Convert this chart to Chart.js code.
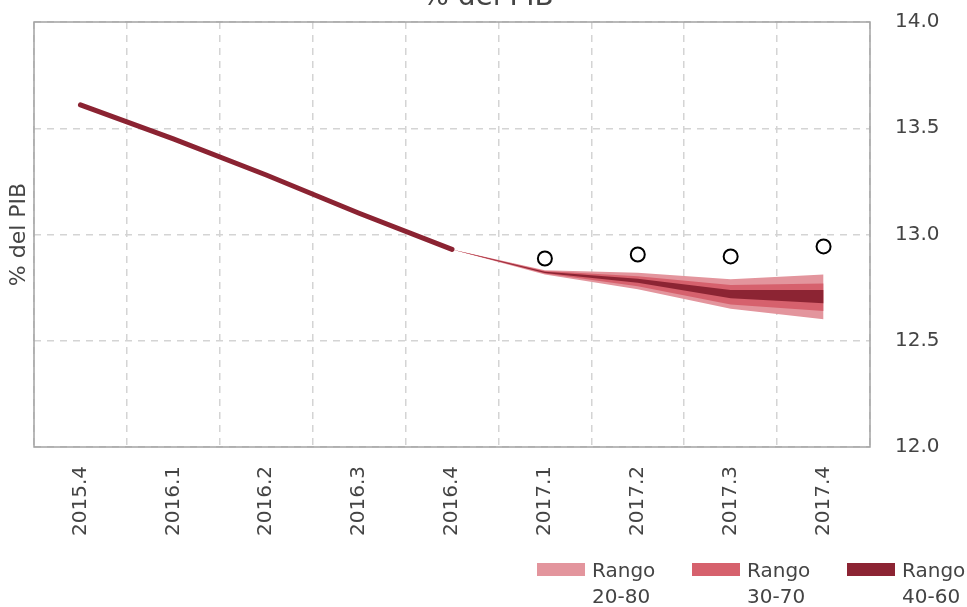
<!DOCTYPE html>
<html>
<head>
<meta charset="utf-8">
<script src="https://cdn.jsdelivr.net/npm/chart.js@4.4.1/dist/chart.umd.min.js"></script>
<style>
  html, body { margin: 0; padding: 0; background: #fff; overflow: hidden; }
  #wrap { position: absolute; left: 0; top: 0; width: 967px; height: 607px; }
  .legend-box { position: absolute; width: 48px; height: 13px; }
  .legend-txt { position: absolute; font: 20px "DejaVu Sans", sans-serif; line-height: 26px; color: #444; }
</style>
</head>
<body>
<div id="wrap"><canvas id="chart"></canvas></div>

<div class="legend-box" style="left:537px;top:563px;background:#e3959d"></div>
<div class="legend-txt" style="left:592px;top:557px">Rango<br>20-80</div>
<div class="legend-box" style="left:692px;top:563px;background:#d6616d"></div>
<div class="legend-txt" style="left:747px;top:557px">Rango<br>30-70</div>
<div class="legend-box" style="left:847px;top:563px;background:#8c2433"></div>
<div class="legend-txt" style="left:902px;top:557px">Rango<br>40-60</div>

<script>
  // ── datos ──
  const quarters = ['2015.4', '2016.1', '2016.2', '2016.3', '2016.4', '2017.1', '2017.2', '2017.3', '2017.4'];
  const observed = [13.61, 13.45, 13.28, 13.10, 12.93, null, null, null, null];
  const survey   = [null, null, null, null, null, 12.887, 12.906, 12.897, 12.944];
  const upper80  = [null, null, null, null, 12.93, 12.832, 12.820, 12.789, 12.812];
  const lower80  = [null, null, null, null, 12.93, 12.812, 12.742, 12.651, 12.601];
  const upper70  = [null, null, null, null, 12.93, 12.828, 12.804, 12.762, 12.770];
  const lower70  = [null, null, null, null, 12.93, 12.816, 12.757, 12.671, 12.640];
  const upper60  = [null, null, null, null, 12.93, 12.825, 12.792, 12.739, 12.739];
  const lower60  = [null, null, null, null, 12.93, 12.819, 12.773, 12.700, 12.676];
  const yTicks   = [12.0, 12.5, 13.0, 13.5, 14.0];

  const FONT = '"DejaVu Sans", sans-serif';
  const TXT = '#444';
  const C80 = '#e3959d', C70 = '#d6616d', C60 = '#8c2433';

  function band(data, color, fill) {
    return {
      data: data, fill: fill, backgroundColor: color, borderColor: 'rgba(0,0,0,0)',
      borderWidth: 0, pointRadius: 0, pointHoverRadius: 0, tension: 0
    };
  }

  // marco del área del gráfico + título recortado
  const framePlugin = {
    id: 'frame',
    beforeDatasetsDraw(chart) {
      const a = chart.chartArea, ctx = chart.ctx;
      ctx.save();
      ctx.strokeStyle = '#a3a3a3';
      ctx.lineWidth = 1.5;
      ctx.strokeRect(a.left, a.top, a.right - a.left, a.bottom - a.top);
      ctx.restore();
    },
    afterDraw(chart) {
      const ctx = chart.ctx;
      ctx.save();
      ctx.font = '28px ' + FONT;
      ctx.fillStyle = TXT;
      ctx.textAlign = 'center';
      ctx.textBaseline = 'alphabetic';
      ctx.fillText('% del PIB', 488, 5);
      ctx.restore();
    }
  };

  const gridOpts = { color: '#d4d4d4', lineWidth: 1.5, drawTicks: false };

  new Chart(document.getElementById('chart'), {
    type: 'line',
    data: {
      labels: quarters,
      datasets: [
        {
          data: survey, showLine: false, pointRadius: 7, pointHoverRadius: 7,
          pointBackgroundColor: '#fff', pointBorderColor: '#000', pointBorderWidth: 2, yAxisID: 'y'
        },
        {
          data: observed, borderColor: '#8b2332', borderWidth: 5, borderCapStyle: 'round',
          pointRadius: 0, fill: false, tension: 0, yAxisID: 'y'
        },
        band(upper60, C60, '+1'),
        band(lower60, C60, false),
        band(upper70, C70, '+1'),
        band(lower70, C70, false),
        band(upper80, C80, '+1'),
        band(lower80, C80, false)
      ]
    },
    options: {
      responsive: true,
      maintainAspectRatio: false,
      devicePixelRatio: 1,
      animation: false,
      layout: { padding: { top: 22, left: 0, right: 0, bottom: 0 } },
      plugins: { legend: { display: false }, tooltip: { enabled: false }, title: { display: false } },
      scales: {
        x: {
          offset: true,
          grid: Object.assign({ offset: true }, gridOpts),
          border: { display: false, dash: [7, 6] },
          ticks: {
            autoSkip: false, minRotation: 90, maxRotation: 90, padding: 19,
            color: TXT, font: { family: FONT, size: 20 }
          },
          afterFit(s) { s.height = 160; }
        },
        y: {
          position: 'right',
          min: 12, max: 14,
          afterBuildTicks(s) { s.ticks = yTicks.map(v => ({ value: v })); },
          grid: gridOpts,
          border: { display: false, dash: [7, 6] },
          ticks: {
            padding: 25, color: TXT, font: { family: FONT, size: 20 },
            callback: v => v.toFixed(1)
          },
          afterFit(s) { s.width = 97; s.paddingTop = 0; s.paddingBottom = 0; }
        },
        yl: {
          position: 'left',
          grid: { display: false, drawTicks: false },
          border: { display: false },
          ticks: { display: false },
          title: {
            display: true, text: '% del PIB', color: TXT,
            font: { family: FONT, size: 22 }, padding: { top: 6, bottom: 0 }
          },
          afterFit(s) { s.width = 34; s.paddingTop = 0; s.paddingBottom = 0; }
        }
      }
    },
    plugins: [framePlugin]
  });
</script>
</body>
</html>
